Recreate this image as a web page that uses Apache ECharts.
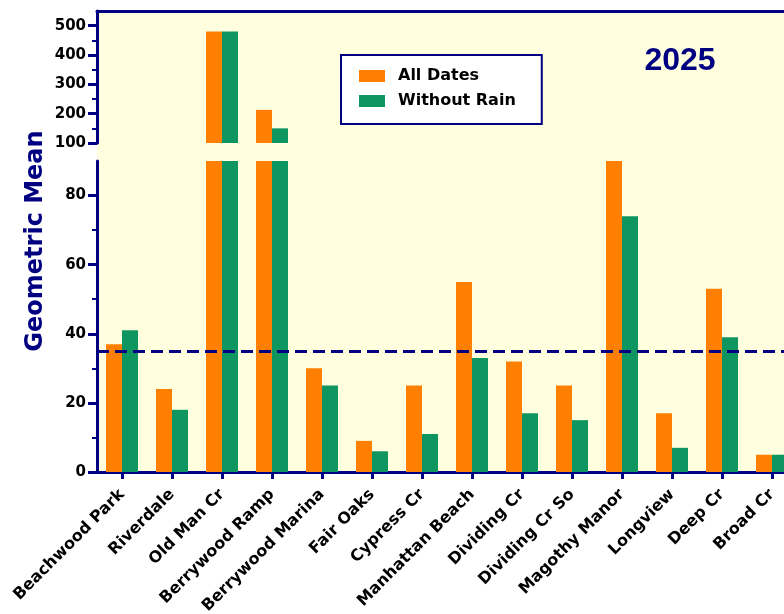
<!DOCTYPE html>
<html>
<head>
<meta charset="utf-8">
<script src="https://cdn.jsdelivr.net/npm/echarts@6/dist/echarts.min.js"></script>
<style>
  html, body { margin: 0; padding: 0; background: #fff; }
  #chart { width: 784px; height: 614px; }
</style>
</head>
<body>
<div id="chart"></div>
<script>
const sites = [
  "Beachwood Park", "Riverdale", "Old Man Cr", "Berrywood Ramp", "Berrywood Marina",
  "Fair Oaks", "Cypress Cr", "Manhattan Beach", "Dividing Cr", "Dividing Cr So",
  "Magothy Manor", "Longview", "Deep Cr", "Broad Cr"
];
const allDates = [37, 24, 480, 213, 30, 9, 25, 55, 32, 25, 91, 17, 53, 5];
const withoutRain = [41, 18, 480, 150, 25, 6, 11, 33, 17, 15, 74, 7, 39, 5];
const threshold = 35;

// broken axis: upper segment 100-550, lower segment 0-90
const upperTicks = [100, 200, 300, 400, 500];
const upperMinor = [150, 250, 350, 450];
const lowerTicks = [0, 20, 40, 60, 80];
const lowerMinor = [10, 30, 50, 70];

const NAVY = "#000080";
const ORANGE = "#FF8000";
const GREEN = "#0F9660";
const FONT = "DejaVu Sans";

const chart = echarts.init(document.getElementById("chart"), null, { renderer: "canvas" });

const aboveBreak = (arr) => arr.map((v) => (v > 100 ? v : "-"));

function valueAxis(grid, min, max, ticks, minor) {
  return [
    {
      type: "value", gridIndex: grid, min: min, max: max, position: "left",
      splitLine: { show: false },
      axisLine: { show: true, lineStyle: { color: NAVY, width: 3 } },
      axisTick: { show: true, customValues: ticks, length: 9, lineStyle: { color: NAVY, width: 3 } },
      axisLabel: {
        customValues: ticks, margin: 11, color: "#000",
        fontFamily: FONT, fontWeight: "bold", fontSize: 15
      }
    },
    {
      type: "value", gridIndex: grid, min: min, max: max, position: "left", offset: 0,
      splitLine: { show: false },
      axisLine: { show: false },
      axisTick: { show: true, customValues: minor, length: 5, lineStyle: { color: NAVY, width: 2 } },
      axisLabel: { show: false }
    }
  ];
}

const option = {
  animation: false,
  backgroundColor: "#fff",
  grid: [
    { left: 97, top: 11, width: 700, height: 132, outerBoundsMode: "none" },
    { left: 97, top: 161, width: 700, height: 311, outerBoundsMode: "none" }
  ],
  xAxis: [
    {
      type: "category", gridIndex: 0, data: sites, position: "top",
      axisLine: { show: true, lineStyle: { color: NAVY, width: 3 } },
      axisTick: { show: false }, axisLabel: { show: false }
    },
    {
      type: "category", gridIndex: 1, data: sites,
      axisLine: { show: true, lineStyle: { color: NAVY, width: 3 } },
      axisTick: { show: true, alignWithLabel: true, length: 7, lineStyle: { color: NAVY, width: 3 } },
      axisLabel: {
        rotate: 45, interval: 0, margin: 20, color: "#000",
        fontFamily: FONT, fontWeight: "bold", fontSize: 16
      }
    }
  ],
  yAxis: [].concat(
    valueAxis(0, 100, 550, upperTicks, upperMinor),
    valueAxis(1, 0, 90, lowerTicks, lowerMinor)
  ),
  legend: {
    data: ["All Dates", "Without Rain"],
    orient: "vertical",
    left: 341, top: 55,
    backgroundColor: "#fff",
    borderColor: NAVY, borderWidth: 2,
    padding: [13, 26, 15, 18],
    itemWidth: 26, itemHeight: 12, itemGap: 9,
    icon: "rect",
    textStyle: { color: "#000", fontFamily: FONT, fontWeight: "bold", fontSize: 16, padding: [0, 0, 0, 8] }
  },
  graphic: [
    {
      type: "rect", z: -10, silent: true,
      shape: { x: 97, y: 10, width: 700, height: 462 },
      style: { fill: "#FFFFE0" }
    },
    {
      type: "text", x: 36, y: 241, rotation: Math.PI / 2,
      style: {
        text: "Geometric Mean", fill: NAVY, align: "center", verticalAlign: "middle",
        font: "bold 24px 'DejaVu Sans'"
      }
    },
    {
      type: "text", x: 680, y: 61,
      style: {
        text: "2025", fill: NAVY, align: "center", verticalAlign: "middle",
        font: "bold 32px 'Liberation Sans'"
      }
    }
  ],
  series: [
    {
      name: "All Dates", type: "bar", xAxisIndex: 0, yAxisIndex: 0,
      data: aboveBreak(allDates), barWidth: 16, barGap: "0%", clip: true,
      itemStyle: { color: ORANGE }
    },
    {
      name: "Without Rain", type: "bar", xAxisIndex: 0, yAxisIndex: 0,
      data: aboveBreak(withoutRain), barWidth: 16, barGap: "0%", clip: true,
      itemStyle: { color: GREEN }
    },
    {
      name: "All Dates", type: "bar", xAxisIndex: 1, yAxisIndex: 2,
      data: allDates, barWidth: 16, barGap: "0%", clip: true,
      itemStyle: { color: ORANGE }
    },
    {
      name: "Without Rain", type: "bar", xAxisIndex: 1, yAxisIndex: 2,
      data: withoutRain, barWidth: 16, barGap: "0%", clip: true,
      itemStyle: { color: GREEN },
      markLine: {
        silent: true, symbol: "none", label: { show: false },
        lineStyle: { color: NAVY, width: 3, type: [12, 6] },
        data: [{ yAxis: threshold }]
      }
    }
  ]
};

chart.setOption(option);
</script>
</body>
</html>
